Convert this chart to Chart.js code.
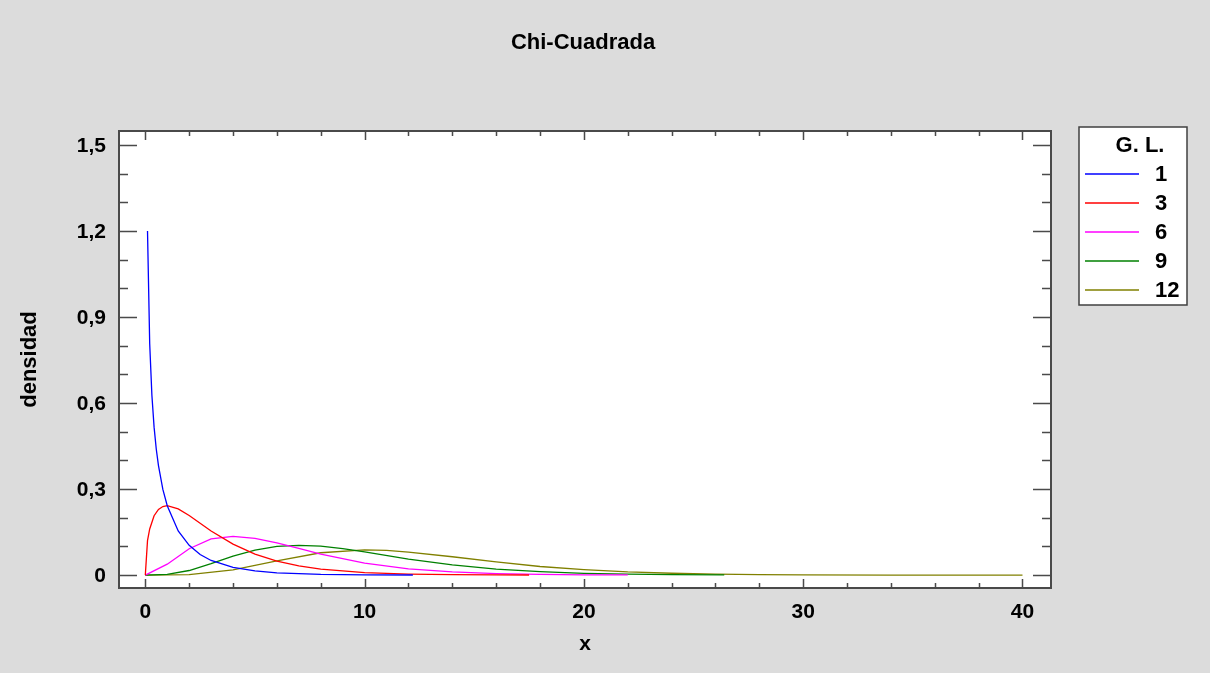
<!DOCTYPE html>
<html>
<head>
<meta charset="utf-8">
<title>Chi-Cuadrada</title>
<script src="https://cdn.jsdelivr.net/npm/chart.js@4.4.0/dist/chart.umd.min.js"></script>
<style>
  html, body { margin: 0; padding: 0; background: #dcdcdc; }
  #wrap { width: 1210px; height: 673px; position: relative; }
</style>
</head>
<body>
<div id="wrap"><canvas id="chart" width="1210" height="673"></canvas></div>
<script>
// Values
const chartTitle = 'Chi-Cuadrada';
const xTitle = 'x';
const yTitle = 'densidad';
const legendTitle = 'G. L.';

const seriesLabels = ['1', '3', '6', '9', '12'];
const seriesColors = ['#0000ff', '#ff0000', '#ff00ff', '#008000', '#808000'];

const xTicks = [0, 10, 20, 30, 40];
const xMinorTicks = [2, 4, 6, 8, 12, 14, 16, 18, 22, 24, 26, 28, 32, 34, 36, 38];
const yTicks = [0, 0.3, 0.6, 0.9, 1.2, 1.5];
const yTickLabels = ['0', '0,3', '0,6', '0,9', '1,2', '1,5'];
const yMinorTicks = [0.1, 0.2, 0.4, 0.5, 0.7, 0.8, 1.0, 1.1, 1.3, 1.4];

// G. L. = 1
const df1X = [0.1, 0.2, 0.3, 0.4, 0.5, 0.6, 0.8, 1, 1.5, 2, 2.5, 3, 4, 5, 6, 8, 10, 12.2];
const df1Y = [1.2, 0.807, 0.627, 0.516, 0.439, 0.382, 0.299, 0.242, 0.154, 0.104, 0.072, 0.051, 0.027, 0.015, 0.008, 0.0026, 0.0009, 0.0003];
// G. L. = 3
const df3X = [0, 0.1, 0.2, 0.4, 0.6, 0.8, 1, 1.5, 2, 3, 4, 5, 6, 7, 8, 10, 12, 14, 16, 17.5];
const df3Y = [0, 0.12, 0.161, 0.207, 0.229, 0.239, 0.242, 0.231, 0.208, 0.154, 0.108, 0.073, 0.049, 0.032, 0.021, 0.0085, 0.0034, 0.0014, 0.0005, 0.0003];
// G. L. = 6
const df6X = [0, 1, 2, 3, 4, 5, 6, 7, 8, 10, 12, 14, 16, 18, 20, 22];
const df6Y = [0, 0.038, 0.092, 0.126, 0.135, 0.128, 0.112, 0.093, 0.073, 0.042, 0.022, 0.011, 0.0054, 0.0025, 0.0011, 0.0005];
// G. L. = 9
const df9X = [0, 1, 2, 3, 4, 5, 6, 7, 8, 9, 10, 12, 14, 16, 18, 20, 22, 24, 26.4];
const df9Y = [0, 0.0023, 0.016, 0.040, 0.066, 0.087, 0.100, 0.104, 0.101, 0.092, 0.081, 0.056, 0.036, 0.021, 0.012, 0.0062, 0.0032, 0.0016, 0.0007];
// G. L. = 12
const df12X = [0, 2, 4, 6, 8, 10, 11, 12, 14, 16, 18, 20, 22, 24, 26, 28, 30, 34, 40];
const df12Y = [0, 0.0015, 0.018, 0.050, 0.078, 0.088, 0.086, 0.080, 0.064, 0.046, 0.030, 0.019, 0.011, 0.0064, 0.0035, 0.0019, 0.001, 0.0002, 0];

const seriesX = [df1X, df3X, df6X, df9X, df12X];
const seriesY = [df1Y, df3Y, df6Y, df9Y, df12Y];

const FONT = 'Liberation Sans, Arial, sans-serif';
const AXIS_COLOR = '#4a4a4a';

const datasets = seriesLabels.map((label, i) => ({
    label: label,
    data: seriesX[i].map((x, j) => ({ x: x, y: seriesY[i][j] })),
    borderColor: seriesColors[i],
    borderWidth: 1.3,
    pointRadius: 0,
    tension: 0,
    fill: false
}));

/**
 * Frame, inward ticks, tick labels, titles and legend
 */
const framePlugin = {
    id: 'frame',
    beforeDraw(chart) {
        const { ctx, chartArea: a } = chart;
        ctx.save();
        ctx.fillStyle = '#dcdcdc';
        ctx.fillRect(0, 0, chart.width, chart.height);
        ctx.fillStyle = '#ffffff';
        ctx.fillRect(a.left, a.top, a.right - a.left, a.bottom - a.top);
        ctx.restore();
    },
    afterDraw(chart) {
        const { ctx, chartArea: a } = chart;
        const xs = chart.scales.x;
        const ys = chart.scales.y;
        ctx.save();

        // plot frame
        ctx.strokeStyle = AXIS_COLOR;
        ctx.lineWidth = 2;
        ctx.strokeRect(a.left, a.top, a.right - a.left, a.bottom - a.top);

        // ticks
        ctx.lineWidth = 1.5;
        ctx.beginPath();
        const xTick = (v, len) => {
            const px = Math.round(xs.getPixelForValue(v)) + 0.5;
            ctx.moveTo(px, a.bottom); ctx.lineTo(px, a.bottom - len);
            ctx.moveTo(px, a.top); ctx.lineTo(px, a.top + len);
        };
        const yTick = (v, len) => {
            const py = Math.round(ys.getPixelForValue(v)) + 0.5;
            ctx.moveTo(a.left, py); ctx.lineTo(a.left + len, py);
            ctx.moveTo(a.right, py); ctx.lineTo(a.right - len, py);
        };
        xTicks.forEach(v => xTick(v, 9));
        xMinorTicks.forEach(v => xTick(v, 5));
        yTicks.forEach(v => yTick(v, 18));
        yMinorTicks.forEach(v => yTick(v, 9));
        ctx.stroke();

        // tick labels
        ctx.fillStyle = '#000';
        ctx.font = 'bold 21px ' + FONT;
        ctx.textAlign = 'center';
        ctx.textBaseline = 'middle';
        xTicks.forEach(v => ctx.fillText(String(v), xs.getPixelForValue(v), 612));
        ctx.textAlign = 'right';
        yTicks.forEach((v, i) => ctx.fillText(yTickLabels[i], 106, ys.getPixelForValue(v) + 1));

        // titles
        ctx.textAlign = 'center';
        ctx.font = 'bold 22px ' + FONT;
        ctx.fillText(chartTitle, 583, 43);
        ctx.font = 'bold 21px ' + FONT;
        ctx.fillText(xTitle, (a.left + a.right) / 2, 644);
        ctx.save();
        ctx.translate(30, (a.top + a.bottom) / 2);
        ctx.rotate(-Math.PI / 2);
        ctx.font = 'bold 22px ' + FONT;
        ctx.fillText(yTitle, 0, 0);
        ctx.restore();

        // legend box
        const lx = 1079, ly = 127, lw = 108, lh = 178;
        ctx.fillStyle = '#ffffff';
        ctx.fillRect(lx, ly, lw, lh);
        ctx.strokeStyle = '#404040';
        ctx.lineWidth = 1.5;
        ctx.strokeRect(lx, ly, lw, lh);
        ctx.fillStyle = '#000';
        ctx.font = 'bold 22px ' + FONT;
        ctx.textAlign = 'center';
        ctx.fillText(legendTitle, 1140, 146);
        ctx.textAlign = 'left';
        chart.data.datasets.forEach((ds, i) => {
            const y = 174 + i * 29;
            ctx.strokeStyle = ds.borderColor;
            ctx.lineWidth = 1.5;
            ctx.beginPath();
            ctx.moveTo(1085, y);
            ctx.lineTo(1139, y);
            ctx.stroke();
            ctx.fillStyle = '#000';
            ctx.fillText(ds.label, 1155, y + 1);
        });

        ctx.restore();
    }
};

const chart = new Chart(document.getElementById('chart'), {
    type: 'line',
    data: { datasets: datasets },
    options: {
        responsive: false,
        animation: false,
        layout: { padding: { left: 119, top: 131, right: 159, bottom: 85 } },
        plugins: {
            legend: { display: false },
            title: { display: false },
            tooltip: { enabled: false }
        },
        scales: {
            x: { type: 'linear', min: -1.2, max: 41.3, display: false },
            y: { type: 'linear', min: -0.045, max: 1.549, display: false }
        }
    },
    plugins: [framePlugin]
});
</script>
</body>
</html>
